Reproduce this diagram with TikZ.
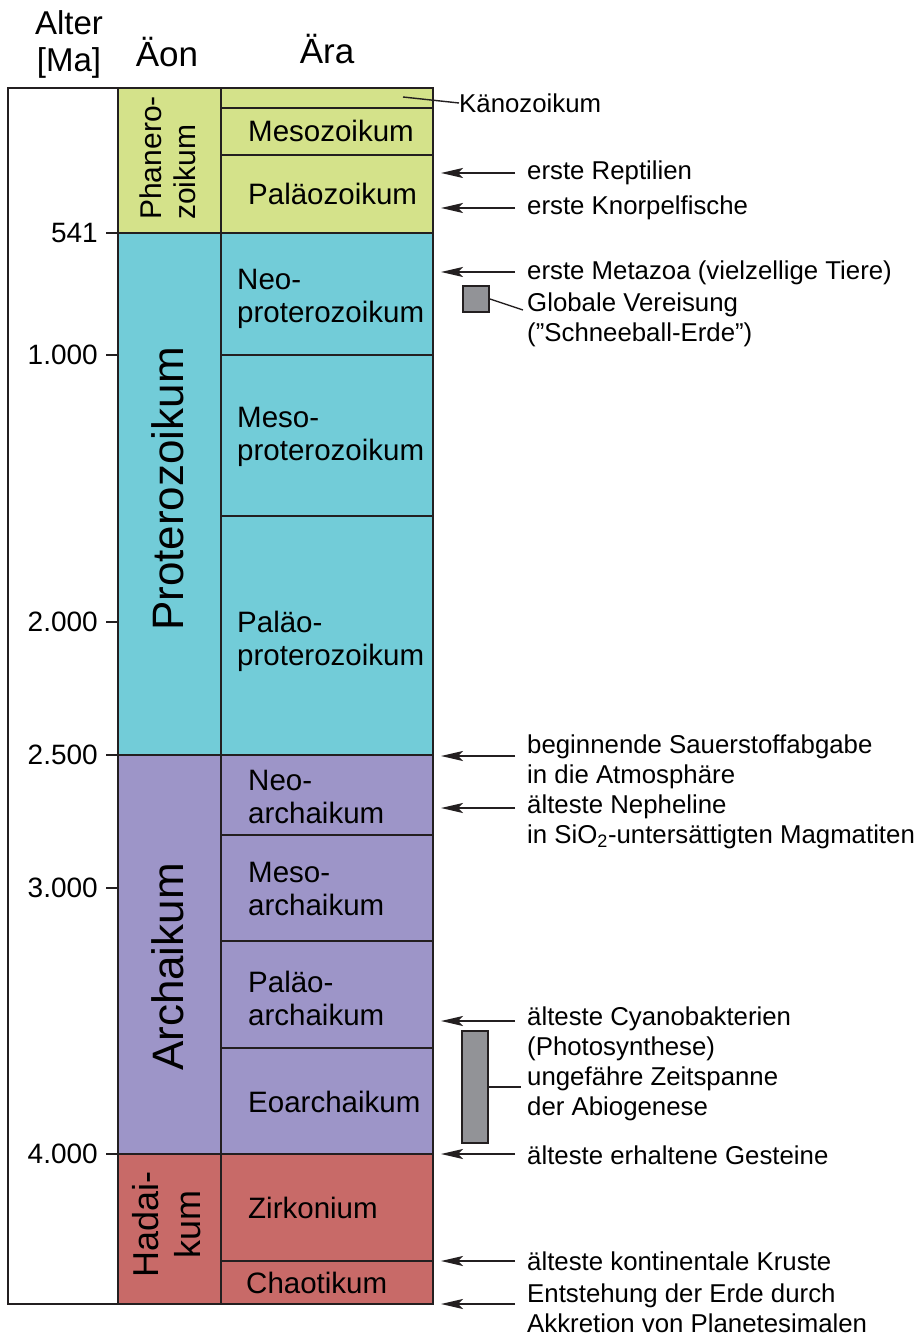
\documentclass[tikz,border=0pt]{standalone}
\usepackage{fontspec}
\setmainfont{Liberation Sans}
\usetikzlibrary{arrows.meta}
\definecolor{phan}{RGB}{212,226,138}
\definecolor{prot}{RGB}{114,204,216}
\definecolor{arch}{RGB}{157,149,200}
\definecolor{hade}{RGB}{200,106,104}
\definecolor{ink}{RGB}{35,31,32}
\definecolor{spangray}{RGB}{146,147,151}
\tikzset{
  cell/.style={draw=ink, line width=2pt},
  eralabel/.style={anchor=west, align=left, inner sep=0pt, font=\fontsize{29.5}{33}\selectfont},
  aeonlabel/.style={rotate=90, inner sep=0pt},
  note/.style={anchor=west, align=left, inner sep=0pt, font=\fontsize{25.8}{29.6}\selectfont},
  tick/.style={anchor=east, inner sep=0pt, font=\fontsize{28}{30}\selectfont},
  head/.style={inner sep=0pt, align=center},
  arr/.style={draw=ink, line width=2.3pt, -{Stealth[length=22pt,width=10pt,inset=5pt]}},
  leader/.style={draw=ink, line width=1.4pt},
  spanbox/.style={draw=ink, line width=2pt, fill=spangray},
}
\begin{document}
\begin{tikzpicture}[x=1pt,y=-1pt]
\useasboundingbox (0,0) rectangle (917,1337);

% headers
\node[head, font=\fontsize{33}{37}\selectfont] (hAlter) at (69,44) {Alter\\{[Ma]}};
\node[head, font=\fontsize{35}{38}\selectfont] (hAeon) at (167,52) {Äon};
\node[head, font=\fontsize{35}{38}\selectfont] (hEra) at (327,49) {Ära};

% age column frame
\draw[cell, line width=2.6pt, fill=white] (8,88) rectangle (433,1304);

% aeons
\draw[cell, fill=phan] (118,88) rectangle (221,233);
\draw[cell, fill=prot] (118,233) rectangle (221,755);
\draw[cell, fill=arch] (118,755) rectangle (221,1154);
\draw[cell, fill=hade] (118,1154) rectangle (221,1304);

% eras
\draw[cell, fill=phan] (221,88) rectangle (433,108);
\draw[cell, fill=phan] (221,108) rectangle (433,155);
\draw[cell, fill=phan] (221,155) rectangle (433,233);
\draw[cell, fill=prot] (221,233) rectangle (433,355);
\draw[cell, fill=prot] (221,355) rectangle (433,516);
\draw[cell, fill=prot] (221,516) rectangle (433,755);
\draw[cell, fill=arch] (221,755) rectangle (433,835);
\draw[cell, fill=arch] (221,835) rectangle (433,941);
\draw[cell, fill=arch] (221,941) rectangle (433,1048);
\draw[cell, fill=arch] (221,1048) rectangle (433,1154);
\draw[cell, fill=hade] (221,1154) rectangle (433,1261);
\draw[cell, fill=hade] (221,1261) rectangle (433,1304);

% outer frame on top
\draw[cell, line width=2.6pt] (8,88) rectangle (433,1304);

% aeon labels
\node[aeonlabel, align=left, font=\fontsize{30}{34}\selectfont] (phaner) at (168,158) {Phanero-\\zoikum};
\node[aeonlabel, font=\fontsize{44}{48}\selectfont] (proter) at (168,489) {Proterozoikum};
\node[aeonlabel, font=\fontsize{44}{48}\selectfont] (archai) at (168,967) {Archaikum};
\node[aeonlabel, align=center, font=\fontsize{36}{42}\selectfont] (hadai) at (167,1224) {Hadai-\\kum};

% era labels
\node[eralabel] (meso) at (248,131) {Mesozoikum};
\node[eralabel] (palaeo) at (248,194) {Paläozoikum};
\node[eralabel] (neoprot) at (237,299) {Neo-\\proterozoikum};
\node[eralabel] (mesoprot) at (237,437) {Meso-\\proterozoikum};
\node[eralabel] (palprot) at (237,641) {Paläo-\\proterozoikum};
\node[eralabel] (neoarch) at (248,797) {Neo-\\archaikum};
\node[eralabel] (mesoarch) at (248,889) {Meso-\\archaikum};
\node[eralabel] (palarch) at (248,998) {Paläo-\\archaikum};
\node[eralabel] (eoarch) at (248,1102) {Eoarchaikum};
\node[eralabel] (zirk) at (248,1208) {Zirkonium};
\node[eralabel] (chaot) at (246,1283) {Chaotikum};

% age ticks
\foreach \yy/\lbl/\nm in {233/541/t541, 355/1.000/t1000, 622/2.000/t2000, 755/2.500/t2500, 888/3.000/t3000, 1154/4.000/t4000}{
  \coordinate (\nm a) at (106,\yy);
  \coordinate (\nm b) at (118,\yy);
  \draw[ink, line width=2pt] (\nm a) -- (\nm b);
  \node[tick] (\nm) at (98,\yy) {\lbl};
}

% Kaenozoikum leader
\node[note] (kaeno) at (459,103) {Känozoikum};
\coordinate (kaenoIn) at (403,97);
\draw[leader] (kaenoIn) -- (kaeno.west);

% event notes
\node[note] (rept) at (527,173) {erste Reptilien};
\node[note] (knorp) at (527,208) {erste Knorpelfische};
\node[note] (meta) at (527,273) {erste Metazoa (vielzellige Tiere)};
\node[note] (vereis) at (527,320) {Globale Vereisung\\(”Schneeball-Erde”)};
\node[note] (sauer) at (527,762) {beginnende Sauerstoffabgabe\\in die Atmosphäre};
\node[note] (neph) at (527,822) {älteste Nepheline\\in SiO\textsubscript{2}-untersättigten Magmatiten};
\node[note] (cyano) at (527,1034) {älteste Cyanobakterien\\(Photosynthese)};
\node[note] (abio) at (527,1094) {ungefähre Zeitspanne\\der Abiogenese};
\node[note] (gest) at (527,1155) {älteste erhaltene Gesteine};
\node[note] (krust) at (527,1261) {älteste kontinentale Kruste};
\node[note] (entst) at (527,1308) {Entstehung der Erde durch\\Akkretion von Planetesimalen};

% arrows towards the scale
\foreach \yy/\nm in {173/aRept, 208/aKnorp, 272/aMeta, 756/aSauer, 808/aNeph, 1021/aCyano, 1154/aGest, 1261/aKrust, 1304/aEntst}{
  \coordinate (\nm t) at (515,\yy);
  \coordinate (\nm h) at (441,\yy);
  \draw[arr] (\nm t) -- (\nm h);
}

% time-span boxes
\node[spanbox, minimum width=26pt, minimum height=26pt, inner sep=0pt] (snowball) at (476,299) {};
\coordinate (snowEnd) at (523,310);
\draw[leader] (snowball.east) -- (snowEnd);
\node[spanbox, minimum width=26pt, minimum height=112pt, inner sep=0pt] (abiospan) at (475,1087) {};
\coordinate (abioEnd) at (521,1087);
\draw[leader] (abiospan.east) -- (abioEnd);

\end{tikzpicture}
\end{document}
